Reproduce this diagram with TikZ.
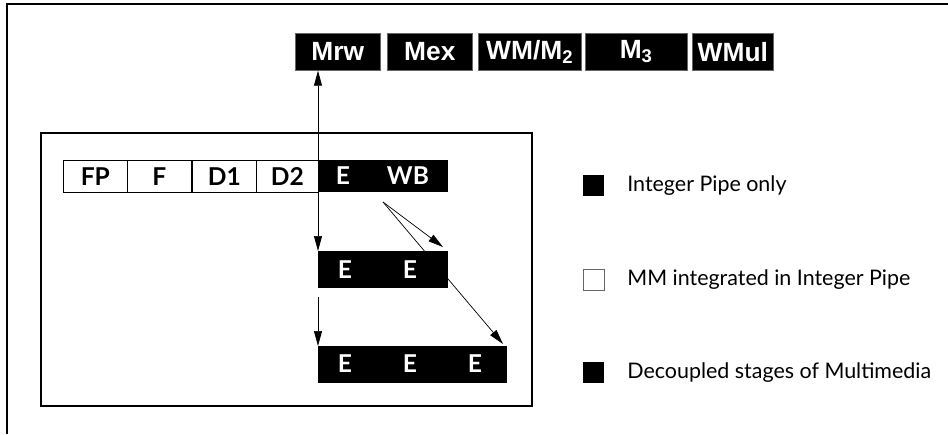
\documentclass[tikz,border=0pt]{standalone}
\usepackage{fontspec}
\setmainfont{Lato}
\newfontfamily\unitfont{Liberation Sans}
\usetikzlibrary{arrows.meta}

\begin{document}
\begin{tikzpicture}[x=0.02cm,y=-0.02cm,
    >={Triangle[length=3mm,width=1.6mm]},
    unit/.style={draw=black!60,fill=black,text=white,font=\unitfont\bfseries\fontsize{15}{17}\selectfont,
      minimum height=0.74cm,inner sep=0pt,anchor=north west},
    stage/.style={draw,thin,fill=white,font=\bfseries\fontsize{14}{16}\selectfont,
      minimum height=0.64cm,minimum width=1.28cm,inner sep=0pt,anchor=north west},
    blk/.style={fill=black,inner sep=0pt,anchor=north west},
    etxt/.style={text=white,font=\bfseries\fontsize{14}{16}\selectfont},
    key/.style={minimum size=0.42cm,inner sep=0pt,anchor=north west},
    keytxt/.style={anchor=west,inner sep=0pt,font=\fontsize{12.2}{14}\selectfont}]
  \useasboundingbox (0,0) rectangle (948,434);
  % cadre exterieur (haut et gauche seulement)
  \draw [line width=1.1pt] (7,434) -- (7,4) -- (948,4);
  % unites multimedia en haut
  \node [unit,minimum width=1.70cm] (mrw) at (295,33) {Mrw};
  \node [unit,minimum width=1.70cm] (mex) at (387,33) {Mex};
  \node [unit,minimum width=2.06cm] (wmm) at (478,33) {WM/M\textsubscript{2}};
  \node [unit,minimum width=2.04cm] (mthree) at (585,33) {M\textsubscript{3}};
  \node [unit,minimum width=1.62cm] (wmul) at (692,33) {WMul};
  % boite interieure
  \draw [line width=1.2pt] (41,133) rectangle (532,406);
  % pipeline entier
  \node [stage] (fp) at (63,160) {FP};
  \node [stage] (f) at (127,160) {F};
  \node [stage] (done) at (192,160) {D1};
  \node [stage,minimum width=1.24cm] (dtwo) at (256,160) {D2};
  \node [blk,minimum width=2.6cm,minimum height=0.64cm] (ewb) at (318,160) {};
  \node [etxt] (ewbe) at (343,176) {E};
  \node [etxt] (ewbwb) at (408,176) {WB};
  % etages decouples
  \node [blk,minimum width=2.6cm,minimum height=0.74cm] (ee) at (318,251) {};
  \node [etxt] (eea) at (345,270) {E};
  \node [etxt] (eeb) at (410,270) {E};
  \node [blk,minimum width=3.78cm,minimum height=0.74cm] (eee) at (318,346) {};
  \node [etxt] (eeea) at (345,364) {E};
  \node [etxt] (eeeb) at (410,364) {E};
  \node [etxt] (eeec) at (475,364) {E};
  % fleches
  \draw [->] (ewb.north west) -- (ewb.north west |- mrw.south);
  \draw [->] (ewb.south west) -- (ee.north west);
  \draw [->,shorten <=5pt] (ee.south west) -- (eee.north west);
  \coordinate (wbtail) at (383,202);
  \coordinate (eetip) at (443,247);
  \coordinate (eeetip) at (503,344);
  \draw [->] (wbtail) -- (eetip);
  \draw [->] (wbtail) -- (eeetip);
  % legende
  \node [key,fill=black] (keyint) at (583,175) {};
  \node [keytxt] at (627,186) {Integer Pipe only};
  \node [key,draw=black!60,fill=white] (keymm) at (583,269) {};
  \node [keytxt] at (627,280) {MM integrated in Integer Pipe};
  \node [key,fill=black] (keydec) at (583,362) {};
  \node [keytxt] at (627,373) {Decoupled stages of Multimedia};
\end{tikzpicture}
\end{document}
